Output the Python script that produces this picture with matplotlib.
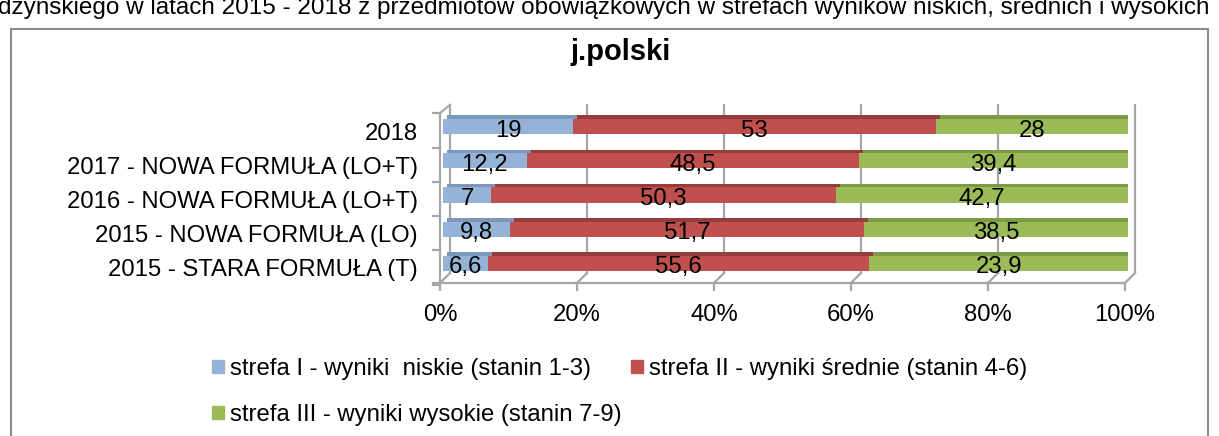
import numpy as np
import matplotlib.pyplot as plt
from matplotlib import transforms
from matplotlib.patches import Patch
from matplotlib.lines import Line2D

plt.rcParams['font.family'] = ['Liberation Sans', 'DejaVu Sans']

# data (bottom row first)
categories = ['2015 - STARA FORMUŁA (T)', '2015 - NOWA FORMUŁA (LO)',
              '2016 - NOWA FORMUŁA (LO+T)', '2017 - NOWA FORMUŁA (LO+T)', '2018']
low = [6.6, 9.8, 7, 12.2, 19]
mid = [55.6, 51.7, 50.3, 48.5, 53]
high = [37.8, 38.5, 42.7, 39.4, 28]          # widths as drawn
high_labels = ['23,9', '38,5', '42,7', '39,4', '28']   # labels as printed
series = ['strefa I - wyniki  niskie (stanin 1-3)',
          'strefa II - wyniki średnie (stanin 4-6)',
          'strefa III - wyniki wysokie (stanin 7-9)']
xticks = [0, 20, 40, 60, 80, 100]

front = ['#95b3d7', '#c0504d', '#9bbb59']
topc = ['#7b97bd', '#963c3a', '#7a9a44']
gc = '#a6a6a6'
fs = 17.2

W, H = 1219, 436
fig = plt.figure(figsize=(W / 100, H / 100), dpi=100)
def fx(p): return p / W
def fy(p): return 1 - p / H

x0, x1 = 443, 1128
ytop, ybot = 109.4, 280.6
ax = fig.add_axes([fx(x0), fy(ybot), (x1 - x0) / W, (ybot - ytop) / H])
ax.set_xlim(0, 100)
ax.set_ylim(-0.5, 4.5)
ax.axis('off')

def off(dx, dy):
    return transforms.ScaledTranslation(dx / 100, dy / 100, fig.dpi_scale_trans)

dxu = 100 / (x1 - x0)
def fr(p): return (ybot - p) / (ybot - ytop)
bl = ax.get_xaxis_transform()

# walls / floor
for t in xticks:
    ax.plot([t + 7 * dxu] * 2, [fr(273), fr(105)], transform=bl, color=gc, lw=1.6, clip_on=False, zorder=0)
    ax.plot([t - 3 * dxu, t + 7 * dxu], [fr(283), fr(273)], transform=bl, color=gc, lw=1.6, clip_on=False, zorder=0)
    ax.plot([t - 3 * dxu] * 2, [fr(283), fr(290)], transform=bl, color=gc, lw=1.6, clip_on=False, zorder=0)
ax.plot([-10 * dxu, 100 - 3 * dxu], [fr(283)] * 2, transform=bl, color=gc, lw=1.6, clip_on=False, zorder=0)
ax.plot([-3 * dxu] * 2, [fr(283), fr(113)], transform=bl, color=gc, lw=1.6, clip_on=False, zorder=0)
ax.plot([-3 * dxu, 7 * dxu], [fr(113), fr(105)], transform=bl, color=gc, lw=1.6, clip_on=False, zorder=0)
ypos = np.arange(len(categories))
for b in list(ypos - 0.5) + [ypos[-1] + 0.5]:
    ax.plot([-10 * dxu, -3 * dxu], [b, b], transform=ax.transData + off(0, -4),
            color=gc, lw=1.6, clip_on=False, zorder=0)

# bars
bh = 0.44
lefts = [np.zeros(5), np.array(low), np.array(low) + np.array(mid)]
for vals, left, c, tc in zip([low, mid, high], lefts, front, topc):
    ax.barh(ypos, vals, left=left, height=bh, color=tc, transform=ax.transData + off(4, 3.5), zorder=2)
    ax.barh(ypos, vals, left=left, height=bh, color=c, zorder=3)

def fmt(v):
    return f'{v:g}'.replace('.', ',')

labels = [[fmt(v) for v in low], [fmt(v) for v in mid], high_labels]
for vals, left, labs in zip([low, mid, high], lefts, labels):
    for y, v, l, lab in zip(ypos, vals, left, labs):
        ax.text(l + v / 2, y, lab, ha='center', va='center', fontsize=fs,
                transform=ax.transData + off(0, -4), zorder=5)

for y, c in zip(ypos, categories):
    ax.text(0, y, c, ha='right', va='center', fontsize=fs,
            transform=ax.get_yaxis_transform() + off(-25, -7))
for t in xticks:
    ax.text(t, 0, f'{t}%', ha='center', va='center', fontsize=fs,
            transform=bl + off(-3, -34))

handles = [Patch(color=front[0], label=series[0]), Patch(color=front[2], label=series[2]),
           Patch(color=front[1], label=series[1])]
fig.legend(handles=handles, ncol=2, loc='upper left', bbox_to_anchor=(fx(212), fy(358)),
           frameon=False, borderpad=0, borderaxespad=0, handlelength=0.5, handleheight=0.5,
           handletextpad=0.25, columnspacing=0.38, labelspacing=1.0, fontsize=fs)

fig.text(fx(621), fy(60), 'j.polski', ha='center', va='baseline', fontsize=21, weight='bold')
fig.text(fx(1210), fy(14), 'dzyńskiego w latach 2015 - 2018 z przedmiotów obowiązkowych w strefach wyników niskich, średnich i wysokich',
         ha='right', va='baseline', fontsize=17.5)

bc = '#8c8c8c'
fig.add_artist(Line2D([fx(11), fx(11)], [fy(29), 0], color=bc, lw=1.5))
fig.add_artist(Line2D([fx(11), fx(1208)], [fy(29), fy(29)], color=bc, lw=1.5))
fig.add_artist(Line2D([fx(1208), fx(1208)], [fy(29), 0], color=bc, lw=1.5))

fig.savefig('out.png', dpi=100)
